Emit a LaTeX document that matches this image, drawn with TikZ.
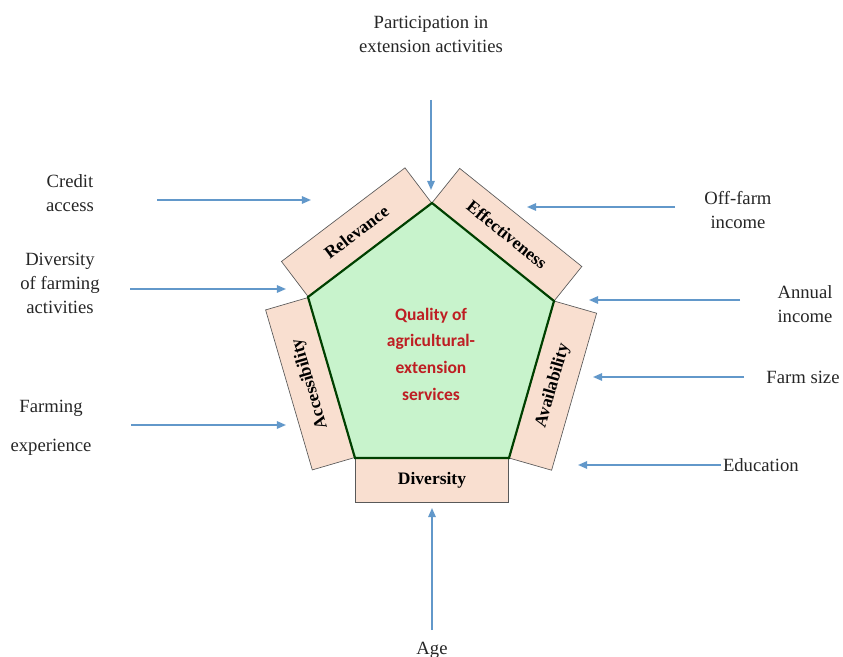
\documentclass[tikz,border=0pt]{standalone}
\usepackage{fontspec}
\setmainfont{Liberation Serif}
\newfontfamily\hubfont{Carlito}
\usetikzlibrary{arrows.meta, positioning}

\definecolor{hubgreen}{RGB}{200,243,204}
\definecolor{hubred}{RGB}{190,30,35}
\definecolor{facetpeach}{RGB}{249,223,208}
\definecolor{arrowblue}{RGB}{98,152,202}

\begin{document}
\begin{tikzpicture}[
  x=0.6pt, y=-0.6pt,
  factor/.style={font=\fontsize{11.2}{14.4}\selectfont, text=black!85,
                 align=center, inner sep=1pt},
  facet/.style={draw=black!65, fill=facetpeach, sloped, inner sep=0pt,
                minimum height=26.4pt, font=\bfseries\fontsize{10.5}{12}\selectfont},
  hub/.style={draw=black!75!green, line width=1.3pt, fill=hubgreen},
  arr/.style={-{Triangle[length=5.5pt,width=4.5pt]}, line width=1pt, arrowblue}
]
\useasboundingbox (0,0) rectangle (843,657);

% corners of the pentagon
\coordinate (top) at (432,203);
\coordinate (ur)  at (554,301);
\coordinate (lr)  at (509,458);
\coordinate (ll)  at (355,458);
\coordinate (ul)  at (308,297);

% the five dimensions sit on the edges
\path (ul) -- (top) node[facet, midway, above, minimum width=93pt] (relev) {Relevance};
\path (top) -- (ur) node[facet, midway, above, minimum width=94pt] (effect) {Effectiveness};
\path (lr) -- (ur) node[facet, midway, below, minimum width=98pt] (avail) {Availability};
\path (ll) -- (lr) node[facet, midway, below, minimum width=92pt] (divers) {Diversity};
\path (ll) -- (ul) node[facet, midway, above, allow upside down,
                        minimum width=100pt] (access) {Accessibility};

\draw[hub] (top) -- (ul) -- (ll) -- (lr) -- (ur) -- cycle;
\node[font=\hubfont\bfseries\fontsize{10.5}{16}\selectfont, text=hubred,
      align=center] (quality) at (431,354)
  {Quality of\\agricultural-\\extension\\services};

% factors
\node[factor] (partic)   at (431,34)  {Participation in\\extension activities};
\node[factor] (credit)   at (70,193)  {Credit\\access};
\node[factor] (divfarm)  at (60,283)  {Diversity\\of farming\\activities};
\node[factor] (exper)    at (51,428)  {Farming\\[9pt]experience};
\node[factor] (offfarm)  at (738,210) {Off-farm\\income};
\node[factor] (annual)   at (805,304) {Annual\\income};
\node[factor] (farmsize) at (803,377) {Farm size};
\node[factor, anchor=west] (educ) at (721,465) {Education};
\node[factor] (age)      at (432,650) {Age};

% arrow ends
\coordinate (partic-s)   at (431,100); \coordinate (partic-t)   at (431,190);
\coordinate (credit-s)   at (157,200); \coordinate (credit-t)   at (311,200);
\coordinate (divfarm-s)  at (130,289); \coordinate (divfarm-t)  at (286,289);
\coordinate (exper-s)    at (131,425); \coordinate (exper-t)    at (286,425);
\coordinate (offfarm-s)  at (675,207); \coordinate (offfarm-t)  at (527,207);
\coordinate (annual-s)   at (740,300); \coordinate (annual-t)   at (589,300);
\coordinate (farmsize-s) at (744,377); \coordinate (farmsize-t) at (593,377);
\coordinate (educ-t)     at (578,465);
\coordinate (age-s)      at (432,630); \coordinate (age-t)      at (432,508);

\draw[arr] (partic-s) -- (partic-t);
\draw[arr] (credit-s) -- (credit-t);
\draw[arr] (divfarm-s) -- (divfarm-t);
\draw[arr] (exper-s) -- (exper-t);
\draw[arr] (offfarm-s) -- (offfarm-t);
\draw[arr] (annual-s) -- (annual-t);
\draw[arr] (farmsize-s) -- (farmsize-t);
\draw[arr] (educ.west) -- (educ-t);
\draw[arr] (age-s) -- (age-t);
\end{tikzpicture}
\end{document}
